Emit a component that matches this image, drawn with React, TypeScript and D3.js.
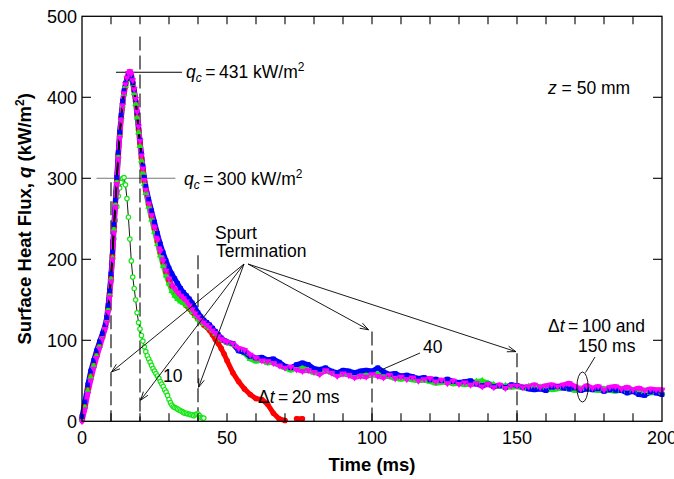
import React from 'react';
import * as d3 from 'd3';

// ---------- data ----------
const timeMs = [
  0, 1, 2, 3, 4, 5, 6, 7, 8,
  8.5, 9, 9.5, 10, 10.5, 11, 11.5, 12, 12.5, 13, 13.5, 14, 14.5, 15, 15.5, 16, 16.5, 17, 17.5, 18, 18.5, 19, 19.5, 20, 20.5, 21, 21.5, 22,
  23, 24, 25, 26, 27, 28, 29, 30, 31, 32, 33, 34, 35, 36, 37, 38, 39, 40, 41, 42, 43, 44, 45, 46, 47, 48, 49, 50,
  52, 54, 56, 58, 60, 62, 64, 66, 68, 70, 72, 74, 76, 78, 80, 82, 84, 86, 88, 90,
  92, 94, 96, 98, 100, 102, 104, 106, 108, 110, 112, 114, 116, 118, 120, 122, 124, 126, 128, 130,
  132, 134, 136, 138, 140, 142, 144, 146, 148, 150, 152, 154, 156, 158, 160, 162, 164, 166, 168, 170,
  172, 174, 176, 178, 180, 182, 184, 186, 188, 190, 192, 194, 196, 198, 200,
];

// Δt = 20 ms (red circles)
const qDt20: (number | null)[] = [
  3, 20, 40, 56, 70, 82, 94, 105, 117,
  125, 140, 158, 178, 205, 240, 270, 298, 330, 355, 375, 392, 405, 414, 422, 428, 431, 426, 418, 408, 395, 378, 360, 343, 325, 310, 296, 285,
  268, 253, 238, 222, 208, 196, 184, 174, 167, 161, 156, 151, 147, 143, 139, 135, 131, 127, 123, 119, 116, 112, 107, 101, 96, 90, 83, 75,
  60, 49, 40, 33, 28, 27, 21, 10, 3, 1, null, 3, 3,
];

// Δt = 40 ms (blue squares)
const qDt40 = [
  6, 24, 45, 62, 75, 87, 98, 108, 119,
  128, 143, 161, 182, 209, 243, 273, 301, 332, 357, 378, 395, 408, 417, 423, 427, 429, 425, 418, 409, 397, 381, 364, 347, 330, 315, 301, 290,
  274, 260, 246, 232, 219, 208, 198, 189, 182, 176, 170, 164, 159, 155, 151, 146, 140, 134, 129, 125, 122, 119, 115, 111, 107, 103, 100, 98,
  96, 87, 85, 80, 78, 79, 76, 77, 73, 68,
  66, 70, 72, 70, 65, 64, 66, 62, 60, 63,
  62, 60, 62, 63, 62, 66, 61, 58, 59, 56,
  57, 55, 53, 54, 51, 52, 50, 52, 49, 48,
  49, 50, 46, 44, 46, 43, 44, 42, 45, 44,
  42, 40, 39, 40, 38, 42, 43, 41, 40, 41,
  38, 40, 39, 40, 37, 39, 38, 38, 35, 37,
  33, 32, 36, 35, 33,
];

// Δt = 100 ms (green triangles)
const qDt100 = [
  2, 18, 38, 55, 69, 81, 93, 104, 116,
  124, 138, 156, 176, 202, 237, 268, 296, 327, 352, 373, 390, 404, 414, 421, 426, 429, 425, 417, 405, 392, 375, 357, 340, 322, 307, 293, 282,
  265, 249, 234, 219, 205, 192, 180, 170, 161, 155, 151, 148, 146, 143, 139, 135, 130, 126, 123, 120, 117, 115, 112, 108, 105, 101, 99, 97,
  95, 88, 84, 77, 74, 76, 72, 73, 70, 66,
  63, 66, 66, 63, 60, 62, 63, 60, 58, 59,
  58, 56, 57, 58, 57, 58, 56, 55, 53, 52,
  53, 51, 50, 51, 49, 47, 48, 49, 46, 47,
  45, 47, 49, 50, 47, 45, 43, 44, 42, 43,
  41, 43, 44, 42, 41, 39, 40, 42, 40, 38,
  40, 41, 39, 38, 40, 38, 37, 39, 37, 38,
  36, 37, 35, 36, 35,
];

// Δt = 150 ms (magenta inverted triangles)
const qDt150 = [
  0, 15, 34, 50, 65, 78, 90, 102, 114,
  122, 135, 153, 173, 200, 233, 265, 293, 324, 350, 372, 390, 405, 416, 424, 430, 432, 429, 421, 410, 398, 382, 364, 346, 328, 312, 298, 286,
  269, 254, 239, 224, 210, 198, 186, 176, 168, 163, 159, 155, 152, 148, 143, 138, 133, 129, 125, 122, 119, 116, 112, 109, 105, 102, 100, 98,
  96, 90, 88, 82, 78, 75, 74, 72, 69, 66,
  67, 64, 62, 63, 61, 58, 63, 60, 56, 59,
  57, 54, 56, 55, 58, 56, 54, 57, 53, 55,
  52, 54, 50, 52, 53, 49, 51, 47, 50, 46,
  48, 45, 47, 43, 46, 42, 45, 41, 44, 44,
  42, 43, 45, 42, 44, 45, 43, 45, 47, 43,
  40, 44, 41, 43, 39, 42, 43, 40, 42, 39,
  41, 38, 40, 39, 39,
];

// Δt = 10 ms (green open circles)
const timeDt10 = [
  0, 1, 2, 3, 4, 5, 6, 7, 8, 9,
  10, 10.5, 11, 11.5, 12, 12.5, 13, 13.5, 14, 14.5,
  15, 15.5, 16, 16.5, 17, 17.5, 18, 18.5, 19, 19.5,
  20, 20.5, 21, 21.5, 22, 22.5, 23, 23.5, 24, 24.5,
  25, 25.5, 26, 26.5, 27, 27.5, 28, 28.5, 29, 29.5,
  30, 30.5, 31, 31.5, 32, 32.5, 33, 33.5, 34, 34.5,
  35, 35.5, 36, 36.5, 37, 37.5, 38, 38.5, 39, 39.5,
  40, 40.5, 41, 41.5, 42,
];
const qDt10 = [
  3, 19, 39, 55, 69, 81, 93, 104, 116, 138,
  172, 200, 225, 248, 265, 278, 288, 295, 300, 301,
  292, 275, 252, 225, 198, 178, 164, 150, 134, 122,
  114, 106, 99, 92, 86, 81, 77, 73, 69, 65,
  62, 59, 56, 53, 49, 46, 43, 39, 36, 32,
  27, 23, 20, 18, 17, 16, 15, 14, 13, 12,
  11, 10, 10, 9, 9, 8, 8, 7, 8, 9,
  9, 7, 5, 4, 4,
];

// annotations
const spurtTimes = [10, 20, 40, 100, 150];
const dashTopQ = [295, 475, 205, 111, 84];
const arrowTipT = [10.2, 20.2, 40.2, 98.8, 149.6];
const arrowTipQ = [61, 26, 42, 113, 86];
const qcLines = [
  { q: 431, t0: 11.7, t1: 34.5, color: '#000' },
  { q: 300, t0: 5, t1: 32.2, color: '#777' },
];
const xTickLabels = [0, 50, 100, 150, 200];
const yTickLabels = [0, 100, 200, 300, 400, 500];

type Pt = [number, number | null];
const pair = (t: number[], q: (number | null)[]): Pt[] => q.map((v, i) => [t[i], v] as Pt);

const FONT = "'Liberation Sans', Arial, Helvetica, sans-serif";

function Arrow({ x1, y1, x2, y2 }: { x1: number; y1: number; x2: number; y2: number }) {
  const a = Math.atan2(y2 - y1, x2 - x1);
  const L = 9;
  const w = 0.33;
  const p1 = [x2 - L * Math.cos(a - w), y2 - L * Math.sin(a - w)];
  const p2 = [x2 - L * Math.cos(a + w), y2 - L * Math.sin(a + w)];
  return (
    <g stroke="#000" strokeWidth={0.9} fill="none">
      <line x1={x1} y1={y1} x2={x2} y2={y2} />
      <polyline points={`${p1[0]},${p1[1]} ${x2},${y2} ${p2[0]},${p2[1]}`} />
    </g>
  );
}

export default function App() {
  const x = d3.scaleLinear().domain([0, 200]).range([82, 662]);
  const y = d3.scaleLinear().domain([0, 500]).range([421.3, 16.3]);
  const line = d3
    .line<Pt>()
    .defined((d) => d[1] !== null)
    .x((d) => x(d[0]))
    .y((d) => y(d[1] as number));

  const series = [
    { key: 'dt20', data: pair(timeMs, qDt20), color: '#ff0000', shape: 'circle' },
    { key: 'dt100', data: pair(timeMs, qDt100), color: '#14e614', shape: 'tri' },
    { key: 'dt40', data: pair(timeMs, qDt40), color: '#0000ff', shape: 'square' },
    { key: 'dt150', data: pair(timeMs, qDt150), color: '#ff00ff', shape: 'itri' },
  ];
  const dt10 = pair(timeDt10, qDt10);

  const triPath = d3.symbol().type(d3.symbolTriangle).size(21)() as string;
  const sqPath = d3.symbol().type(d3.symbolSquare).size(22)() as string;

  const marker = (shape: string, color: string, px: number, py: number, k: number) => {
    if (shape === 'circle') return <circle key={k} cx={px} cy={py} r={2.8} fill={color} />;
    if (shape === 'square') return <path key={k} d={sqPath} transform={`translate(${px},${py})`} fill={color} />;
    if (shape === 'tri') return <path key={k} d={triPath} transform={`translate(${px},${py})`} fill={color} />;
    return <path key={k} d={triPath} transform={`translate(${px},${py}) rotate(180)`} fill={color} />;
  };

  const x0 = x(0), x1 = x(200), yTop = y(500), yBot = y(0);
  const minorTicks = x.ticks(20);
  const originL = { x: 244, y: 264 };
  const originR = { x: 248, y: 264 };

  const fs = 17.5;

  return (
    <svg width={674} height={479} style={{ position: 'absolute', left: 0, top: 0, background: '#fff' }} fontFamily={FONT}>
      <defs>
        <clipPath id="riseClip">
          <rect x={x(7)} y={yTop} width={x(22) - x(7)} height={yBot - yTop} />
        </clipPath>
      </defs>

      {/* q_c reference lines */}
      {qcLines.map((l) => (
        <line key={l.q} x1={x(l.t0)} x2={x(l.t1)} y1={y(l.q)} y2={y(l.q)} stroke={l.color} strokeWidth={1.1} />
      ))}

      {/* spurt termination dashed lines */}
      {spurtTimes.map((t, i) => (
        <line key={t} x1={x(t)} x2={x(t)} y1={y(dashTopQ[i])} y2={yBot} stroke="#000" strokeWidth={1.1} strokeDasharray="14 5" />
      ))}

      {/* Δt = 10 ms */}
      <path d={line(dt10) as string} fill="none" stroke="#000" strokeWidth={0.9} />
      {dt10.map((d, i) => (
        <circle key={i} cx={x(d[0])} cy={y(d[1] as number)} r={2.2} fill="#fff" stroke="#14e614" strokeWidth={1.2} />
      ))}

      {/* thick colored traces */}
      {series.map((s) => (
        <path key={s.key} d={line(s.data) as string} fill="none" stroke={s.color} strokeWidth={5} strokeLinejoin="round" strokeLinecap="round" />
      ))}
      {/* black connecting lines (visible on steep rise) */}
      <g clipPath="url(#riseClip)">
        {series.map((s) => (
          <path key={s.key} d={line(s.data) as string} fill="none" stroke="#000" strokeWidth={1.4} />
        ))}
      </g>
      {/* markers */}
      {series.map((s) => (
        <g key={s.key}>
          {s.data.filter((d) => d[1] !== null).map((d, i) => marker(s.shape, s.color, x(d[0]), y(d[1] as number), i))}
        </g>
      ))}

      {/* frame */}
      <rect x={x0} y={yTop} width={x1 - x0} height={yBot - yTop} fill="none" stroke="#000" strokeWidth={1.3} />
      {/* ticks */}
      <g stroke="#000" strokeWidth={1.1}>
        {minorTicks.filter((t) => t > 0 && t < 200).map((t) => (
          <g key={t}>
            <line x1={x(t)} x2={x(t)} y1={yBot} y2={yBot - 8} />
            <line x1={x(t)} x2={x(t)} y1={yTop} y2={yTop + 8} />
          </g>
        ))}
        {yTickLabels.filter((v) => v > 0 && v < 500).map((v) => (
          <g key={v}>
            <line x1={x0} x2={x0 + 9} y1={y(v)} y2={y(v)} />
            <line x1={x1} x2={x1 - 9} y1={y(v)} y2={y(v)} />
          </g>
        ))}
      </g>
      {/* tick labels */}
      <g fontSize={18} fill="#000">
        {xTickLabels.map((v) => (
          <text key={v} x={x(v)} y={444} textAnchor="middle">{v}</text>
        ))}
        {yTickLabels.map((v) => (
          <text key={v} x={77} y={y(v) + 6.5} textAnchor="end">{v}</text>
        ))}
      </g>

      {/* axis titles */}
      <text x={(x0 + x1) / 2} y={471} textAnchor="middle" fontSize={18.5} fontWeight="bold">Time (ms)</text>
      <text transform={`translate(31,${(yTop + yBot) / 2}) rotate(-90)`} textAnchor="middle" fontSize={18.5} fontWeight="bold">
        Surface Heat Flux, <tspan fontStyle="italic">q</tspan> (kW/m<tspan fontSize={12} dy={-7}>2</tspan><tspan dy={7}>)</tspan>
      </text>

      {/* annotations */}
      <g fontSize={fs} fill="#000">
        <text x={186} y={78}>
          <tspan fontStyle="italic">q</tspan><tspan fontStyle="italic" fontSize={12} dy={4}>c</tspan><tspan dy={-4}>{'\u2009=\u2009431 kW/m'}</tspan><tspan fontSize={12} dy={-7}>2</tspan>
        </text>
        <text x={184} y={185}>
          <tspan fontStyle="italic">q</tspan><tspan fontStyle="italic" fontSize={12} dy={4}>c</tspan><tspan dy={-4}>{'\u2009=\u2009300 kW/m'}</tspan><tspan fontSize={12} dy={-7}>2</tspan>
        </text>
        <text x={548} y={94}>
          <tspan fontStyle="italic">z</tspan> = 50 mm
        </text>
        <text x={215} y={239}>Spurt</text>
        <text x={216} y={257}>Termination</text>
        <text x={163} y={382}>10</text>
        <text x={258} y={403}>
          Δ<tspan fontStyle="italic">t</tspan>{'\u2009=\u200920 ms'}
        </text>
        <text x={423} y={353}>40</text>
        <text x={548} y={332}>
          Δ<tspan fontStyle="italic">t</tspan>{'\u2009=\u2009100 and'}
        </text>
        <text x={578} y={352}>150 ms</text>
      </g>

      {/* arrows */}
      {spurtTimes.map((t, i) => {
        const o = i < 3 ? originL : originR;
        return <Arrow key={t} x1={o.x} y1={o.y} x2={x(arrowTipT[i])} y2={y(arrowTipQ[i])} />;
      })}
      <line x1={420} y1={353} x2={381} y2={370} stroke="#000" strokeWidth={0.9} />
      <ellipse cx={582.5} cy={387} rx={5.6} ry={15} fill="none" stroke="#000" strokeWidth={0.9} />
      <line x1={595} y1={357} x2={585.5} y2={372.5} stroke="#000" strokeWidth={0.9} />
    </svg>
  );
}
